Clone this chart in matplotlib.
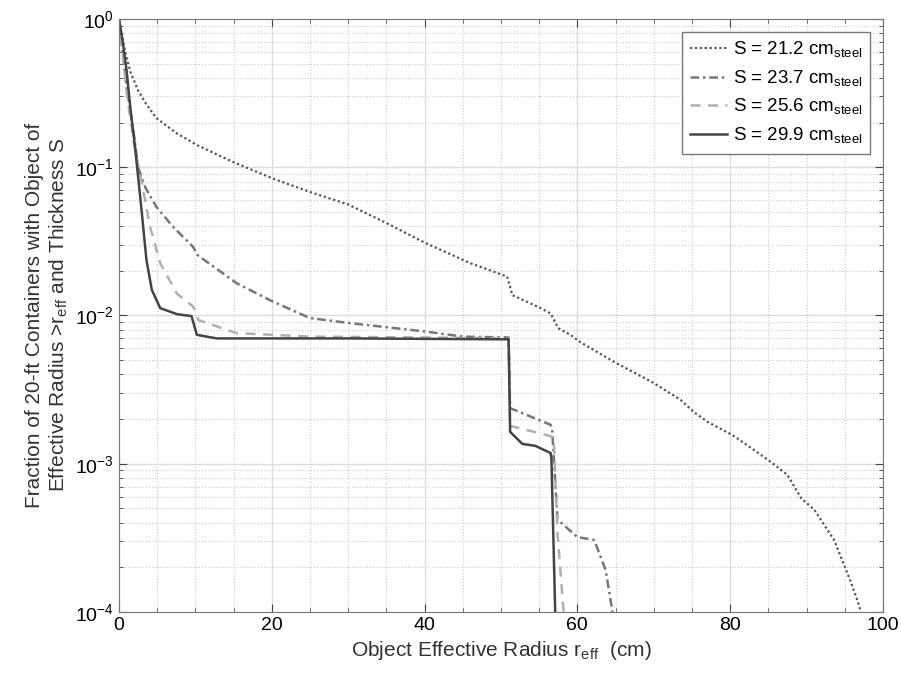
import numpy as np
import matplotlib
matplotlib.use("Agg")
import matplotlib.pyplot as plt
from matplotlib.ticker import MultipleLocator, LogLocator, NullFormatter

plt.rcParams['font.family'] = ['Liberation Sans', 'DejaVu Sans']

# S = 21.2 cm steel (dotted)
x_212 = [0, 0.5, 1, 1.5, 2.5, 3.5, 4.9, 7.5, 10.2, 15, 20.1, 25, 30, 35, 40, 46, 50.8, 51.5,
         55.2, 56.5, 57.5, 59.1, 60.4, 65, 70, 73.5, 75.2, 77, 80.3, 83, 85.3, 87.5, 89.3,
         91, 93.6, 95.6, 96.7, 97.1]
y_212 = [1.0, 0.72, 0.55, 0.44, 0.33, 0.27, 0.214, 0.17, 0.141, 0.108, 0.084, 0.068, 0.056,
         0.042, 0.031, 0.0225, 0.0183, 0.0137, 0.0112, 0.0103, 0.0082, 0.0074, 0.0066,
         0.0048, 0.0035, 0.0027, 0.00224, 0.00192, 0.00156, 0.00125, 0.00103, 0.00084,
         0.000585, 0.00049, 0.000306, 0.000169, 0.000118, 0.0001]

# S = 23.7 cm steel (dash-dot)
x_237 = [0, 1, 2, 2.5, 3.5, 4.9, 7, 9.7, 10.3, 15.4, 20, 25, 30, 40, 45, 51.0, 51.2, 56.5,
         56.7, 57.4, 60, 62.2, 63.7, 64.6]
y_237 = [1.0, 0.35, 0.16, 0.1, 0.072, 0.054, 0.04, 0.029, 0.0255, 0.0165, 0.0125, 0.0096,
         0.0089, 0.0078, 0.0072, 0.0071, 0.00237, 0.00183, 0.0017, 0.00042, 0.00032,
         0.000306, 0.000192, 0.0001]

# S = 25.6 cm steel (dashed)
x_256 = [0, 1, 2, 2.75, 4.06, 5.4, 7.6, 9.7, 10.4, 15.4, 25, 40, 51.0, 51.2, 56, 56.9,
         57.4, 58.2]
y_256 = [1.0, 0.32, 0.14, 0.091, 0.04, 0.0225, 0.014, 0.0115, 0.0093, 0.0076, 0.0072,
         0.0071, 0.007, 0.0018, 0.00156, 0.0015, 0.00034, 0.0001]

# S = 29.9 cm steel (solid)
x_299 = [0, 0.5, 1, 1.5, 2.1, 3.0, 3.6, 4.3, 5.4, 7.6, 9.5, 10.2, 12.8, 30, 51.0, 51.2,
         52.8, 54.5, 56.5, 56.6, 57.1]
y_299 = [1.0, 0.7, 0.45, 0.25, 0.138, 0.049, 0.0237, 0.0149, 0.0112, 0.0102, 0.0099, 0.0074,
         0.0070, 0.0070, 0.0069, 0.00164, 0.00136, 0.00132, 0.00118, 0.0011, 0.0001]

labels = ["S = 21.2 cm$_{\\mathregular{steel}}$", "S = 23.7 cm$_{\\mathregular{steel}}$",
          "S = 25.6 cm$_{\\mathregular{steel}}$", "S = 29.9 cm$_{\\mathregular{steel}}$"]

fig = plt.figure(figsize=(9.01, 6.74), dpi=100)
ax = fig.add_axes([0.132, 0.092, 0.848, 0.880])

ax.semilogy(x_212, y_212, color="#555555", linewidth=1.6, dashes=(1, 1.2), label=labels[0])
ax.semilogy(x_237, y_237, color="#777777", linewidth=1.8, dashes=(3.5, 1.5, 1, 1.5),
            label=labels[1])
ax.semilogy(x_256, y_256, color="#b0b0b0", linewidth=1.8, dashes=(4, 3), label=labels[2])
ax.semilogy(x_299, y_299, linestyle="-", color="#444444", linewidth=1.8, label=labels[3])

ax.set_xlim(0, 100)
ax.set_ylim(1e-4, 1)
ax.xaxis.set_major_locator(MultipleLocator(20))
ax.xaxis.set_minor_locator(MultipleLocator(5))
ax.yaxis.set_major_locator(LogLocator(base=10, numticks=10))
ax.yaxis.set_minor_locator(LogLocator(base=10, subs=np.arange(2, 10), numticks=20))
ax.yaxis.set_minor_formatter(NullFormatter())

ax.grid(True, which="major", color="#dddddd", linestyle="-", linewidth=1.0)
ax.grid(True, which="minor", color="#cccccc", linestyle=":", linewidth=0.8)
ax.set_axisbelow(True)
ax.tick_params(which="both", direction="in", top=True, right=True, labelsize=14,
               color="#444444")
ax.tick_params(which="major", length=6)
ax.tick_params(which="minor", length=3)
for sp in ax.spines.values():
    sp.set_color("#777777")

ax.set_xlabel("Object Effective Radius r$_{\\mathregular{eff}}$  (cm)", fontsize=15, color="#333333")
ax.set_ylabel("Fraction of 20-ft Containers with Object of\n"
              "Effective Radius >r$_{\\mathregular{eff}}$ and Thickness S", fontsize=15,
              color="#333333")

leg = ax.legend(loc="upper right", fontsize=13.5, fancybox=False, framealpha=1,
                edgecolor="#777777", handlelength=2.0, handletextpad=0.3,
                borderaxespad=0.7, labelspacing=0.45)
leg.get_frame().set_linewidth(1.0)

fig.savefig("out.png", dpi=100)
